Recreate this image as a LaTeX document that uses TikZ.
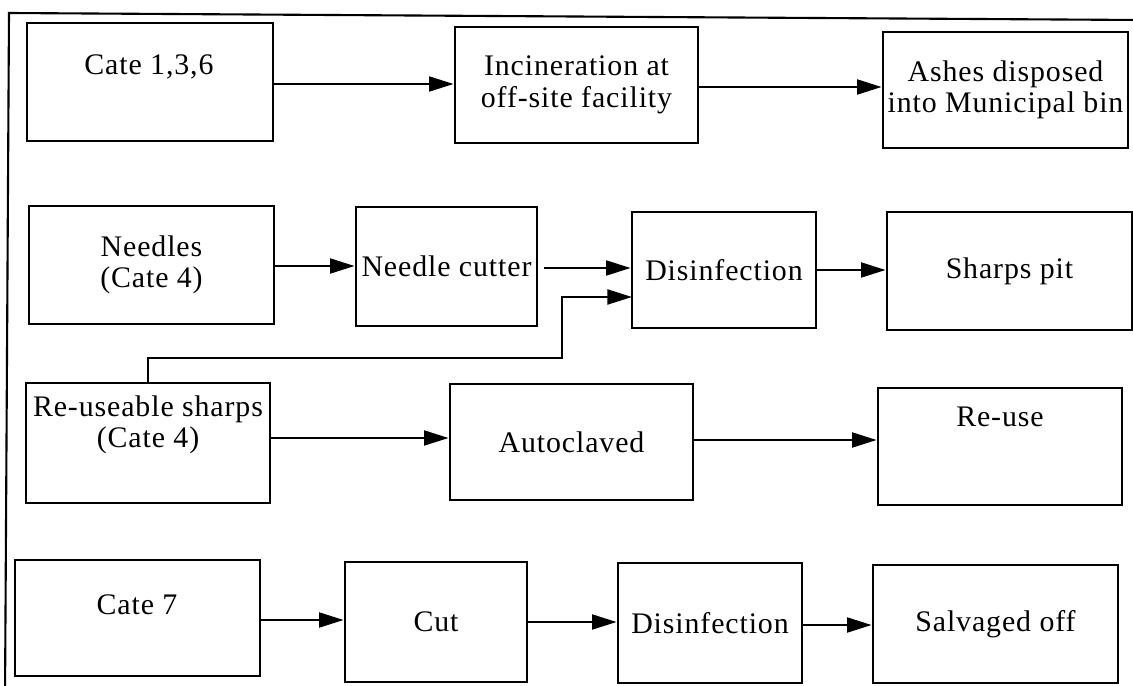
\documentclass[tikz,border=0pt]{standalone}
\usepackage{fontspec}
\setmainfont{Liberation Serif}[LetterSpace=3]
\usetikzlibrary{arrows.meta,fit}
\begin{document}
\begin{tikzpicture}[x=0.02cm,y=-0.02cm,
  box/.style={draw,line width=1.6pt,inner sep=0pt},
  txt/.style={align=center,inner sep=1pt,font=\fontsize{17}{18}\selectfont},
  arr/.style={line width=1.3pt,-{Triangle[length=14pt,width=8.5pt]}},
  frameline/.style={line width=1.2pt}]
\useasboundingbox (0,0) rectangle (1133,686);
\clip (0,0) rectangle (1133,686);

% outer frame (top and left edges visible)
\coordinate (fbl) at (5,700);
\coordinate (ftl) at (9,13);
\coordinate (ftr) at (1140,20);
\draw[frameline] (fbl) -- (ftl) -- (ftr);

% row 1: categories 1, 3, 6
\node[box,fit={(27,23) (273,141)}] (c136) {};
\node[txt] (c136t) at (149,67) {Cate 1,3,6};
\node[box,fit={(455,27) (698,143)}] (inc) {};
\node[txt] (inct) at (inc.center) {Incineration at\\off-site facility};
\node[box,fit={(883,32) (1128,148)}] (ash) {};
\node[txt] (asht) at (ash.center) {Ashes disposed\\into Municipal bin};

% row 2: needles
\node[box,fit={(29,206) (274,324)}] (ndl) {};
\node[txt] (ndlt) at (ndl.center) {Needles\\(Cate 4)};
\node[box,fit={(356,207) (537,326)}] (cutter) {};
\node[txt] (cuttert) at (cutter.center) {Needle cutter};
\node[box,fit={(632,212) (816,328)}] (dis1) {};
\node[txt] (dis1t) at (dis1.center) {Disinfection};
\node[box,fit={(887,212) (1132,330)}] (pit) {};
\node[txt] (pitt) at (pit.center) {Sharps pit};

% row 3: re-useable sharps
\node[box,fit={(26,383) (270,503)}] (rs) {};
\node[txt] (rst) at (148,425) {Re-useable sharps\\(Cate 4)};
\node[box,fit={(450,384) (693,500)}] (auto) {};
\node[txt] (autot) at (auto.center) {Autoclaved};
\node[box,fit={(878,388) (1122,505)}] (reuse) {};
\node[txt] (reuset) at (1000,417) {Re-use};

% row 4: category 7
\node[box,fit={(15,560) (260,676)}] (c7) {};
\node[txt] (c7t) at (137,605) {Cate 7};
\node[box,fit={(345,562) (527,682)}] (cut) {};
\node[txt] (cutt) at (cut.center) {Cut};
\node[box,fit={(618,563) (802,683)}] (dis2) {};
\node[txt] (dis2t) at (dis2.center) {Disinfection};
\node[box,fit={(873,565) (1118,683)}] (salv) {};
\node[txt] (salvt) at (salv.center) {Salvaged off};

% connectors
\draw[arr] (c136.east |- 0,84) -- (inc.west |- 0,84);
\draw[arr] (inc.east |- 0,87) -- (ash.west |- 0,87);

\draw[arr] (ndl.east |- 0,266) -- (cutter.west |- 0,266);
\draw[arr] ([xshift=3pt]cutter.east |- 0,268) -- (dis1.west |- 0,268);
\draw[arr] (dis1.east |- 0,270) -- (pit.west |- 0,270);

\coordinate (rsup) at (148,358);
\coordinate (rsbend) at (562,358);
\coordinate (dis1in) at (632,297);
\draw[arr] (rs.north -| rsup) -- (rsup) -- (rsbend) |- (dis1in);

\draw[arr] (rs.east |- 0,438) -- (auto.west |- 0,438);
\draw[arr] (auto.east |- 0,440) -- (reuse.west |- 0,440);

\draw[arr] (c7.east |- 0,620) -- (cut.west |- 0,620);
\draw[arr] (cut.east |- 0,622) -- (dis2.west |- 0,622);
\draw[arr] (dis2.east |- 0,625) -- (salv.west |- 0,625);
\end{tikzpicture}
\end{document}
